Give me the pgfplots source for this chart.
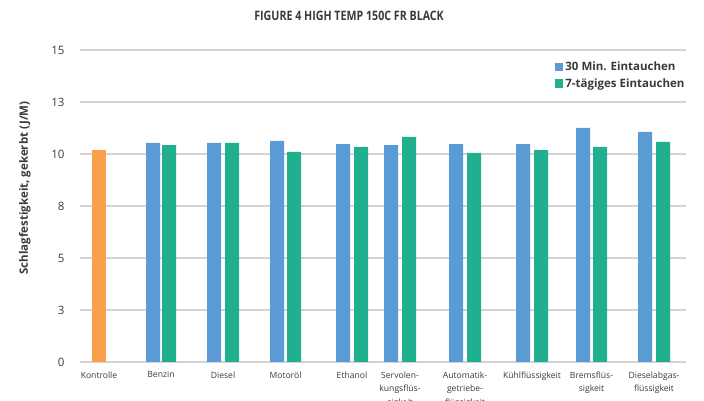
\documentclass[border=0pt]{standalone}
\usepackage{fontspec}
\setmainfont{Open Sans}
\newfontfamily\titlefont[FakeStretch=0.82]{Open Sans}
\usepackage{pgfplots}
\pgfplotsset{compat=1.18}
\definecolor{cblue}{HTML}{5B9BD5}
\definecolor{cgreen}{HTML}{21B08F}
\definecolor{corange}{HTML}{F8A04B}
\definecolor{cgrid}{HTML}{D3D3D3}
\definecolor{ctext}{HTML}{3A3A3A}
\begin{document}
\begin{tikzpicture}
\useasboundingbox (0,0) rectangle (704pt,401pt);
\begin{axis}[
  at={(80pt,39pt)}, anchor=south west,
  scale only axis, width=606pt, height=312pt,
  xmin=80, xmax=686, ymin=0, ymax=15,
  axis line style={draw=none},
  ymajorgrids, grid style={cgrid, line width=1.6pt},
  major tick length=0pt,
  ytick={0,2.5,5,7.5,10,12.5,15},
  yticklabels={0,3,5,8,10,13,15},
  yticklabel style={font=\fontsize{11.5}{13}\selectfont, text=ctext, xshift=-12pt},
  /pgf/number format/assume math mode=true,
  xtick={99,161,223,285.5,352,400,465,532,591.5,654},
  xticklabels={Kontrolle,Benzin,Diesel,Motoröl,Ethanol,{Servolen-\\kungsflüs-\\sigkeit},{Automatik-\\getriebe-\\flüssigkeit},Kühlflüssigkeit,{Bremsflüs-\\sigkeit},{Dieselabgas-\\flüssigkeit}},
  xticklabel style={font=\fontsize{8.6}{13.5}\selectfont, text=ctext, align=center, anchor=north, yshift=-6pt},
  ylabel={Schlagfestigkeit, gekerbt (J/M)},
  every axis y label/.style={at={(axis description cs:-0.091,0.558)}, rotate=90, anchor=center,
    font=\bfseries\fontsize{11.5}{13}\selectfont, text=ctext},
  title={\titlefont\bfseries FIGURE 4 HIGH TEMP 150C FR BLACK},
  title style={font=\fontsize{13}{14}\selectfont, text=ctext, at={(axis description cs:0.444,1.09)}, anchor=center},
  ybar, bar width=14pt,
  legend style={draw=none, fill=none, at={(1.006,0.975)}, anchor=north east,
    font=\bfseries\fontsize{11.5}{13}\selectfont, text=ctext, row sep=2.5pt,
    legend cell align=left},
  legend image code/.code={\fill[#1] (0pt,-4pt) rectangle (8.5pt,4.5pt);},
]
\addplot[fill=corange, draw=none, bar shift=0pt, forget plot] coordinates {(99,10.19)};
\addplot[fill=cblue, draw=none, bar shift=0pt] coordinates {
 (153,10.53) (214,10.53) (277,10.63) (343,10.48) (391,10.43)
 (456,10.48) (523,10.48) (583,11.25) (645,11.06)};
\addplot[fill=cgreen, draw=none, bar shift=0pt] coordinates {
 (169,10.43) (232,10.53) (294,10.10) (361,10.34) (409,10.82)
 (474,10.05) (541,10.19) (600,10.34) (663,10.58)};
\legend{30 Min. Eintauchen, 7-tägiges Eintauchen}
\end{axis}
\end{tikzpicture}
\end{document}
